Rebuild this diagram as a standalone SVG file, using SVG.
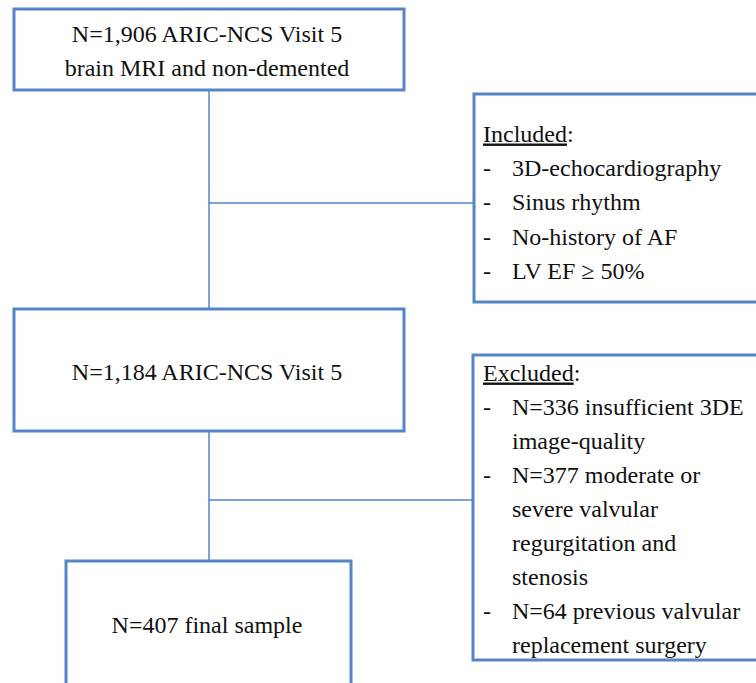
<svg xmlns="http://www.w3.org/2000/svg" width="756" height="683" viewBox="0 0 756 683">
<style>
.box{fill:#ffffff;stroke:#5585c6;stroke-width:3}
.ln{fill:none;stroke:#5585c6;stroke-width:1.5}
.t{font-family:'Liberation Serif', 'Times New Roman', Times, serif;font-size:24px;fill:#111111}
.c{text-anchor:middle}
.u{text-decoration:underline}
</style>
<rect width="756" height="683" fill="#ffffff"/>
<g id="connectors">
<line class="ln" x1="209" y1="90" x2="209" y2="309"/>
<line class="ln" x1="209" y1="203" x2="474" y2="203"/>
<line class="ln" x1="209" y1="431" x2="209" y2="561"/>
<line class="ln" x1="209" y1="500" x2="474" y2="500"/>
</g>
<g id="n1" class="t">
<rect class="box" x="14" y="9" width="390" height="81"/>
<text class="c" x="207" y="42">N=1,906 ARIC-NCS Visit 5</text>
<text class="c" x="207" y="76">brain MRI and non-demented</text>
</g>
<g id="included" class="t">
<rect class="box" x="474" y="94" width="290" height="208"/>
<text x="483" y="141.5"><tspan class="u">Included</tspan>:</text>
<text x="483" y="175.5">-</text><text x="512" y="175.5">3D-echocardiography</text>
<text x="483" y="210">-</text><text x="512" y="210">Sinus rhythm</text>
<text x="483" y="244.5">-</text><text x="512" y="244.5">No-history of AF</text>
<text x="483" y="278.5">-</text><text x="512" y="278.5">LV EF ≥ 50%</text>
</g>
<g id="n2" class="t">
<rect class="box" x="14" y="309" width="390" height="122"/>
<text class="c" x="207" y="380">N=1,184 ARIC-NCS Visit 5</text>
</g>
<g id="excluded" class="t">
<rect class="box" x="473" y="355" width="290" height="305"/>
<text x="483" y="380.5"><tspan class="u">Excluded</tspan>:</text>
<text x="483" y="414.5">-</text><text x="512" y="414.5">N=336 insufficient 3DE</text>
<text x="512" y="448.5">image-quality</text>
<text x="483" y="482.5">-</text><text x="512" y="482.5">N=377 moderate or</text>
<text x="512" y="517">severe valvular</text>
<text x="512" y="551">regurgitation and</text>
<text x="512" y="585">stenosis</text>
<text x="483" y="619">-</text><text x="512" y="619">N=64 previous valvular</text>
<text x="512" y="653">replacement surgery</text>
</g>
<g id="n3" class="t">
<rect class="box" x="66" y="561" width="285" height="140"/>
<text class="c" x="207" y="633">N=407 final sample</text>
</g>
</svg>
